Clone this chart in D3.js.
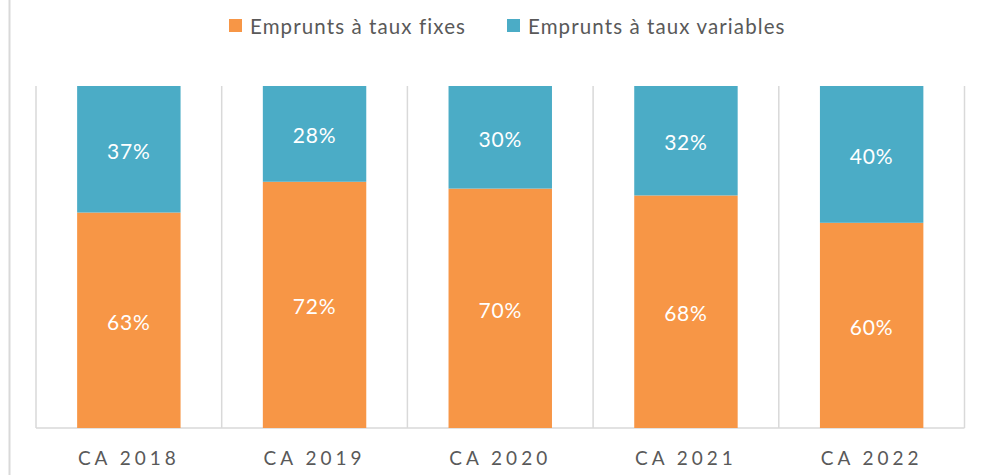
<!DOCTYPE html>
<html>
<head>
<meta charset="utf-8">
<script src="https://cdn.jsdelivr.net/npm/d3@7"></script>
<style>
  html, body { margin: 0; padding: 0; background: #fff; }
  svg { display: block; font-family: Lato, "Open Sans", sans-serif; }
</style>
</head>
<body>
<svg id="chart" width="984" height="475"></svg>
<script>
const categories = ['CA 2018', 'CA 2019', 'CA 2020', 'CA 2021', 'CA 2022'];
const tauxFixes = [63, 72, 70, 68, 60];
const tauxVariables = [37, 28, 30, 32, 40];
const seriesNames = ['Emprunts à taux fixes', 'Emprunts à taux variables'];
const seriesColors = ['#F79646', '#4BACC6'];

const svg = d3.select('#chart');
const rows = categories.map((c, i) => ({ cat: c, fixe: tauxFixes[i], variable: tauxVariables[i] }));
const stacked = d3.stack().keys(['fixe', 'variable'])(rows);

const x = d3.scaleBand().domain(categories).range([36, 964.5]);
const y = d3.scaleLinear().domain([0, 100]).range([428, 86]);
const barW = x.bandwidth() * 0.557;
const barX = c => x(c) + (x.bandwidth() - barW) / 2;

// left frame line
svg.append('line')
  .attr('x1', 9.5).attr('x2', 9.5).attr('y1', 0).attr('y2', 475)
  .attr('stroke', '#d9d9d9').attr('stroke-width', 2);

// category separators + baseline
const grid = svg.append('g').attr('stroke', '#d9d9d9').attr('stroke-width', 1.5);
const bounds = categories.map(c => x(c)).concat([x.range()[1]]);
grid.selectAll('line.sep').data(bounds).join('line')
  .attr('class', 'sep')
  .attr('x1', d => d).attr('x2', d => d)
  .attr('y1', y(100)).attr('y2', y(0));
grid.append('line')
  .attr('x1', x.range()[0]).attr('x2', x.range()[1])
  .attr('y1', y(0)).attr('y2', y(0));

// bars
const layers = svg.selectAll('g.layer').data(stacked).join('g')
  .attr('class', 'layer')
  .attr('fill', (d, i) => seriesColors[i]);
layers.selectAll('rect').data(d => d).join('rect')
  .attr('x', d => barX(d.data.cat))
  .attr('width', barW)
  .attr('y', d => y(d[1]))
  .attr('height', d => y(d[0]) - y(d[1]));

// value labels
layers.selectAll('text').data(d => d).join('text')
  .attr('x', d => barX(d.data.cat) + barW / 2)
  .attr('y', d => (y(d[0]) + y(d[1])) / 2)
  .attr('dy', '0.45em')
  .attr('text-anchor', 'middle')
  .attr('fill', '#fff')
  .attr('font-size', 21)
  .attr('letter-spacing', 0.8)
  .text(d => (d[1] - d[0]) + '%');

// x axis labels
const xAxis = d3.axisBottom(x).tickSize(0).tickPadding(0);
svg.append('g')
  .attr('transform', `translate(0,${y(0)})`)
  .call(xAxis)
  .call(g => g.select('.domain').remove())
  .call(g => g.selectAll('text')
    .attr('y', 30)
    .attr('dy', '0.35em')
    .attr('fill', '#595959')
    .attr('font-size', 19)
    .attr('letter-spacing', 4)
    .attr('font-family', 'Lato, sans-serif'));

// legend
const legend = svg.append('g').attr('transform', 'translate(229,19)');
const items = legend.selectAll('g').data(seriesNames).join('g')
  .attr('transform', (d, i) => `translate(${i * 278},0)`);
items.append('rect')
  .attr('width', 13).attr('height', 13)
  .attr('fill', (d, i) => seriesColors[i]);
items.append('text')
  .attr('x', 21).attr('y', 7)
  .attr('dy', '0.38em')
  .attr('fill', '#595959')
  .attr('font-size', 20.5)
  .attr('letter-spacing', 1.1)
  .text(d => d);
</script>
</body>
</html>
